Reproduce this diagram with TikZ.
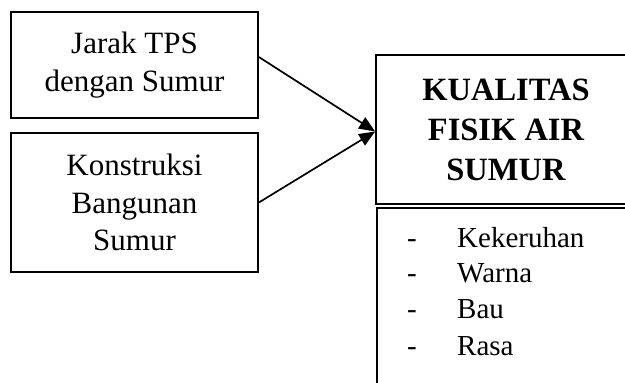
\documentclass[tikz,border=0pt]{standalone}
\usepackage{fontspec}
\setmainfont{Liberation Serif}
\usetikzlibrary{arrows.meta}
\begin{document}
\begin{tikzpicture}[x=1pt,y=-1pt,
 box/.style={draw,line width=1.7pt,inner sep=0pt,align=center},
 lbl/.style={font=\fontsize{31}{37.5}\selectfont},
 ttl/.style={font=\fontsize{32.5}{40}\selectfont\bfseries},
 item/.style={anchor=base west,inner sep=0pt,font=\fontsize{29}{36}\selectfont},
 conn/.style={line width=1.7pt,-{Triangle[length=16pt,width=13pt]}}]
\clip (0,0) rectangle (625,383);
\node[box,lbl,minimum width=247pt,minimum height=106pt] (b1) at (134.5,65) {Jarak TPS\\dengan Sumur};
\node[box,lbl,minimum width=247pt,minimum height=139pt] (b2) at (134.5,202.5) {Konstruksi\\Bangunan\\Sumur};
\node[box,ttl,minimum width=260pt,minimum height=149pt] (kq) at (506,129.5) {KUALITAS\\FISIK AIR\\SUMUR};
\node[box,minimum width=260pt,minimum height=200pt,anchor=north west] (ciri) at (376,207) {};
\node[item] (i1) at (407,247) {\makebox[50pt][l]{-}Kekeruhan};
\node[item] (i2) at (407,282) {\makebox[50pt][l]{-}Warna};
\node[item] (i3) at (407,318) {\makebox[50pt][l]{-}Bau};
\node[item] (i4) at (407,355) {\makebox[50pt][l]{-}Rasa};
\coordinate (tip) at ([yshift=-2pt]kq.west);
\draw[conn] ([yshift=8pt]b1.east) -- (tip);
\draw[conn] (b2.east) -- (tip);
\end{tikzpicture}
\end{document}
